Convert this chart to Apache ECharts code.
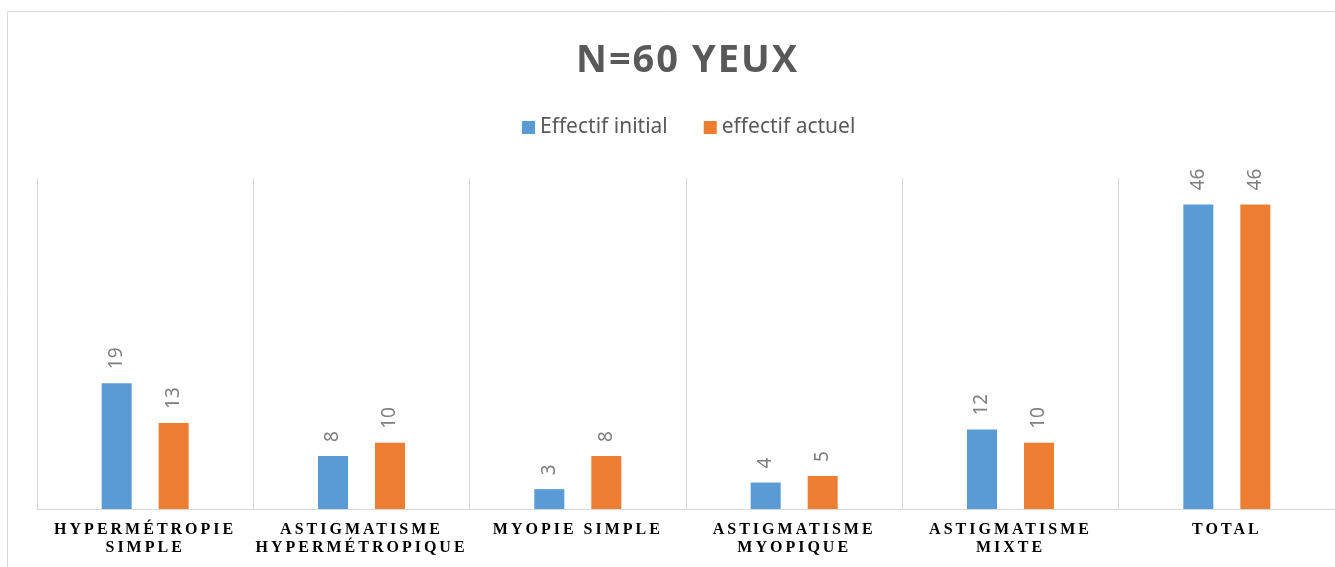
<!DOCTYPE html>
<html>
<head>
<meta charset="utf-8">
<script src="https://cdn.jsdelivr.net/npm/echarts@6/dist/echarts.min.js"></script>
<style>
  html, body { margin: 0; padding: 0; background: #fff; }
  #main { width: 1335px; height: 567px; }
</style>
</head>
<body>
<div id="main"></div>
<script>
// données
const categories = [
  "HYPERMÉTROPIE\nSIMPLE",
  "ASTIGMATISME\nHYPERMÉTROPIQUE",
  "MYOPIE SIMPLE",
  "ASTIGMATISME\nMYOPIQUE",
  "ASTIGMATISME\nMIXTE",
  "TOTAL"
];
const effectifInitial = [19, 8, 3, 4, 12, 46];
const effectifActuel = [13, 10, 8, 5, 10, 46];

// espacement des lettres (titre et libellés de l'axe)
const _fillText = CanvasRenderingContext2D.prototype.fillText;
CanvasRenderingContext2D.prototype.fillText = function (t, x, y, w) {
  const f = this.font || "";
  this.letterSpacing = /Liberation Serif/.test(f) ? "3px" : /38px/.test(f) ? "2px" : "0px";
  return w === undefined ? _fillText.call(this, t, x, y) : _fillText.call(this, t, x, y, w);
};

const gridColor = "#d9d9d9";
const labelStyle = {
  show: true,
  position: "top",
  rotate: 90,
  align: "left",
  verticalAlign: "middle",
  distance: 14,
  fontFamily: "Noto Sans",
  fontSize: 19,
  color: "#7f7f7f",
};

const myChart = echarts.init(document.getElementById("main"));
const option = {
  animation: false,
  backgroundColor: "#fff",
  title: {
    text: "N=60 YEUX",
    left: 571,
    top: 37,
    textStyle: {
      fontFamily: "Open Sans",
      fontWeight: "bold",
      fontSize: 38,
      color: "#595959",
    },
  },
  legend: {
    left: 517,
    top: 112,
    itemWidth: 13,
    itemHeight: 13,
    itemGap: 36,
    icon: "rect",
    textStyle: {
      fontFamily: "Noto Sans",
      fontSize: 21,
      color: "#595959",
    },
    data: ["Effectif initial", "effectif actuel"],
  },
  graphic: [
    {
      type: "rect",
      shape: { x: 7.5, y: 11.5, width: 1400, height: 700 },
      style: { fill: "none", stroke: gridColor, lineWidth: 1 },
      silent: true,
    },
  ],
  grid: {
    left: 37,
    top: 178,
    width: 1302,
    height: 331,
  },
  xAxis: {
    type: "category",
    data: categories,
    axisLine: { lineStyle: { color: gridColor, width: 1 } },
    axisTick: { show: false },
    splitLine: { show: true, lineStyle: { color: gridColor, width: 1 } },
    axisLabel: {
      interval: 0,
      margin: 12,
      fontFamily: "Liberation Serif",
      fontWeight: "bold",
      fontSize: 16,
      lineHeight: 18,
      color: "#000",
    },
  },
  yAxis: {
    type: "value",
    min: 0,
    max: 50,
    show: false,
    splitLine: { show: false },
  },
  series: [
    {
      name: "Effectif initial",
      type: "bar",
      barWidth: 30,
      barGap: "90%",
      data: effectifInitial,
      itemStyle: { color: "#5B9BD5" },
      label: labelStyle,
    },
    {
      name: "effectif actuel",
      type: "bar",
      barWidth: 30,
      data: effectifActuel,
      itemStyle: { color: "#ED7D31" },
      label: labelStyle,
    },
  ],
};
myChart.setOption(option);
</script>
</body>
</html>
